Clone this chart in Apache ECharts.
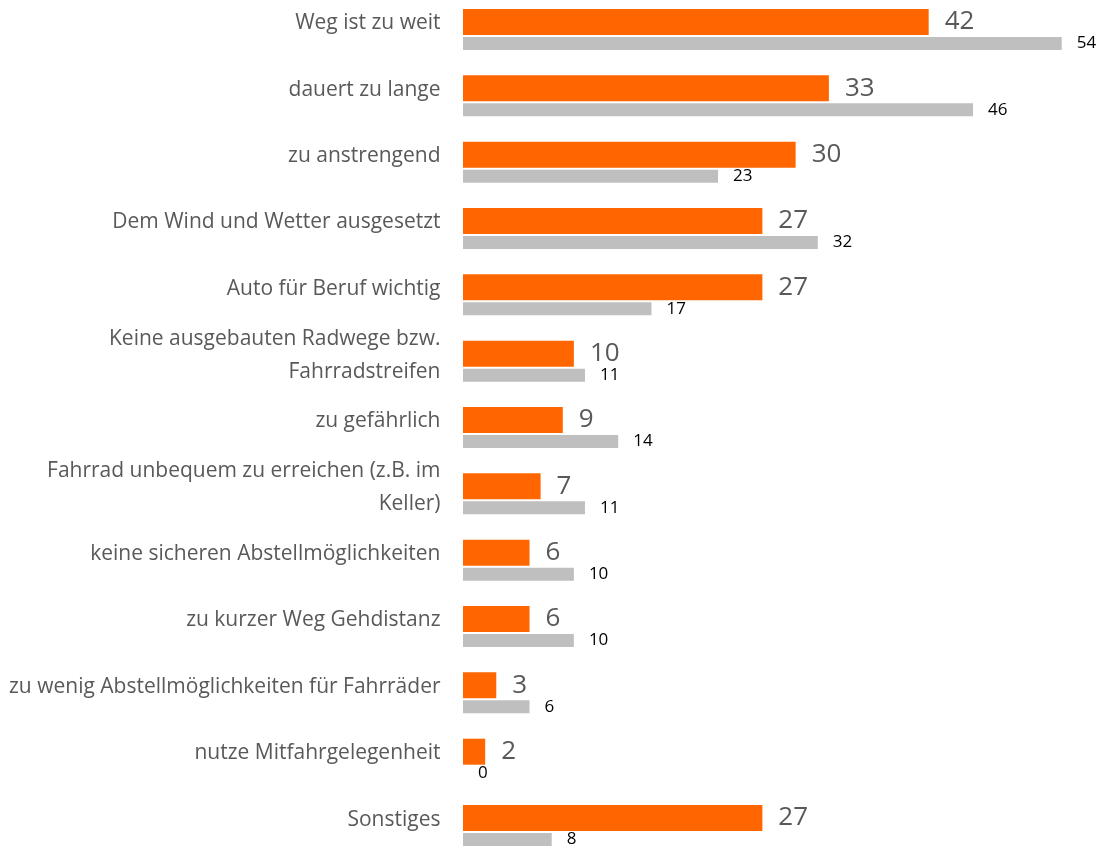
<!DOCTYPE html>
<html lang="de" style="height: 100%">
<head>
    <meta charset="utf-8">
</head>
<body style="height: 100%; margin: 0; background: #fff">
    <div id="container" style="width: 1099px; height: 851px"></div>
    <script type="text/javascript" src="https://fastly.jsdelivr.net/npm/echarts@6.0.0/dist/echarts.min.js"></script>
    <script type="text/javascript">
    // Gründe gegen das Fahrrad (Werte in %)
    const categories = [
        'Weg ist zu weit',
        'dauert zu lange',
        'zu anstrengend',
        'Dem Wind und Wetter ausgesetzt',
        'Auto für Beruf wichtig',
        'Keine ausgebauten Radwege bzw.\nFahrradstreifen',
        'zu gefährlich',
        'Fahrrad unbequem zu erreichen (z.B. im\nKeller)',
        'keine sicheren Abstellmöglichkeiten',
        'zu kurzer Weg Gehdistanz',
        'zu wenig Abstellmöglichkeiten für Fahrräder',
        'nutze Mitfahrgelegenheit',
        'Sonstiges'
    ];
    const orangeValues = [42, 33, 30, 27, 27, 10, 9, 7, 6, 6, 3, 2, 27];
    const greyValues = [54, 46, 23, 32, 17, 11, 14, 11, 10, 10, 6, 0, 8];

    const orange = '#FF6600';
    const grey = '#BFBFBF';
    const fontFamily = '"Open Sans", sans-serif';

    var dom = document.getElementById('container');
    var myChart = echarts.init(dom, null, { renderer: 'canvas' });
    var option = {
        animation: false,
        backgroundColor: '#ffffff',
        grid: {
            left: 463,
            right: 4,
            top: -3.7,
            bottom: -7.7,
            outerBoundsMode: 'none',
            containLabel: false
        },
        xAxis: {
            type: 'value',
            min: 0,
            max: 57,
            show: false
        },
        yAxis: {
            type: 'category',
            inverse: true,
            data: categories,
            axisLine: { show: false },
            axisTick: { show: false },
            splitLine: { show: false },
            axisLabel: { show: false }
        },
        series: [
            {
                name: 'Reihe 1',
                type: 'bar',
                data: orangeValues,
                barWidth: 26,
                barGap: '7.7%',
                itemStyle: { color: orange },
                label: {
                    show: true,
                    position: 'right',
                    distance: 16,
                    color: '#595959',
                    fontFamily: fontFamily,
                    fontSize: 26
                }
            },
            {
                name: 'Reihe 2',
                type: 'bar',
                data: greyValues,
                barWidth: 13,
                barGap: '7.7%',
                itemStyle: { color: grey },
                label: {
                    show: true,
                    position: 'right',
                    distance: 15,
                    color: '#000000',
                    fontFamily: fontFamily,
                    fontSize: 17
                }
            },
            {
                // category names, lifted towards the centre of the orange bar
                name: 'Kategorien',
                type: 'scatter',
                silent: true,
                symbolSize: 1,
                itemStyle: { color: 'rgba(0,0,0,0)', opacity: 1 },
                data: categories.map(c => [0, c]),
                label: {
                    show: true,
                    position: 'left',
                    distance: 22,
                    offset: [0, -6],
                    formatter: p => p.value[1],
                    color: '#595959',
                    opacity: 1,
                    fontFamily: fontFamily,
                    fontSize: 21,
                    lineHeight: 33,
                    align: 'right'
                }
            }
        ]
    };
    myChart.setOption(option);
    window.addEventListener('resize', myChart.resize);
    </script>
</body>
</html>
